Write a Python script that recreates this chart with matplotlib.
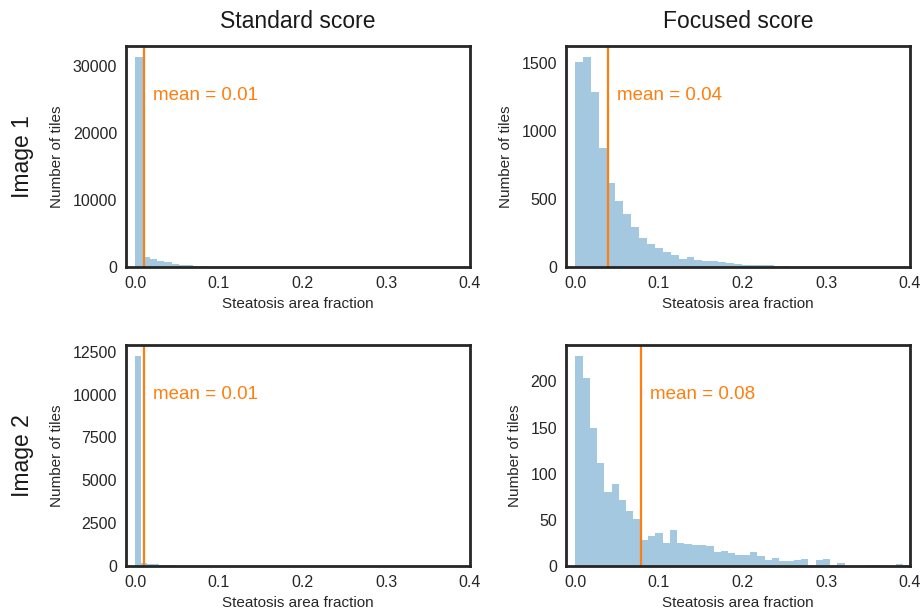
import numpy as np
import matplotlib
matplotlib.use("Agg")
import matplotlib.pyplot as plt
import matplotlib.transforms as mtransforms
import seaborn as sns

# histogram counts (one list per panel)
std1_counts = [31400, 1500, 1250, 950, 700, 500, 350, 250, 170, 110, 70, 40, 25, 15, 8, 5, 3, 2, 1, 1]
foc1_counts = [1510, 1547, 1289, 877, 620, 488, 390, 292, 211, 169, 137, 108, 88, 59, 71, 51, 47, 42,
               34, 27, 22, 17, 15, 12, 12, 10, 7, 3, 2, 2, 1]
std2_counts = [12280, 150, 120, 90, 70, 50, 35, 25, 15, 10, 5]
foc2_counts = [228, 204, 150, 112, 80, 89, 72, 60, 51, 28, 32, 36, 25, 39, 25, 24, 23, 23, 22, 15, 16, 14,
               12, 12, 15, 11, 7, 9, 5, 5, 6, 8, 1, 7, 8, 1, 3, 0, 0, 0, 1, 1, 0, 0, 2, 1]

# bin widths of each histogram
std1_bin = 0.0087
foc1_bin = 0.0095
std2_bin = 0.007
foc2_bin = 0.0087

# mean steatosis fraction per panel
std1_mean = 0.0107
foc1_mean = 0.039
std2_mean = 0.0104
foc2_mean = 0.078

col_titles = ['Standard score', 'Focused score']
row_titles = ['Image 1', 'Image 2']
x_ticks = [0.0, 0.1, 0.2, 0.3, 0.4]
std1_yticks = [0, 10000, 20000, 30000]
foc1_yticks = [0, 500, 1000, 1500]
std2_yticks = [0, 2500, 5000, 7500, 10000, 12500]
foc2_yticks = [0, 50, 100, 150, 200]

sns.set_style('white')
plt.rcParams['font.family'] = ['Liberation Sans', 'DejaVu Sans']

fig = plt.figure(figsize=(9.22, 6.10), dpi=100)

lefts = [0.1367, 0.6139]
bottoms = [0.5623, 0.0721]
w, h = 0.3731, 0.3623

panels = [
    (0, 0, std1_counts, std1_bin, std1_mean, std1_yticks),
    (0, 1, foc1_counts, foc1_bin, foc1_mean, foc1_yticks),
    (1, 0, std2_counts, std2_bin, std2_mean, std2_yticks),
    (1, 1, foc2_counts, foc2_bin, foc2_mean, foc2_yticks),
]

for row, col, counts, bw, mean, yticks in panels:
    ax = fig.add_axes([lefts[col], bottoms[row], w, h])
    counts = np.array(counts)
    edges = np.arange(len(counts)) * bw
    ax.bar(edges, counts, width=bw, align='edge', color='C0', alpha=0.4, linewidth=0)
    ax.axvline(mean, color='C1', linewidth=1.6)
    trans = mtransforms.blended_transform_factory(ax.transData, ax.transAxes)
    ax.text(mean + 0.011, 0.775, f'mean = {mean:.2f}', color='C1', fontsize=13.5,
            va='center', ha='left', transform=trans)
    ax.set_xlim(-0.011, 0.4)
    ax.set_ylim(0, counts.max() * 1.05)
    ax.set_xticks(x_ticks)
    ax.set_yticks(yticks)
    ax.tick_params(labelsize=11.5, colors='.15', pad=3)
    ax.set_xlabel('Steatosis area fraction', fontsize=11, labelpad=4)
    ax.set_ylabel('Number of tiles', fontsize=11, labelpad=6)
    for sp in ax.spines.values():
        sp.set_linewidth(2)
        sp.set_color('.15')

for i, t in enumerate(col_titles):
    fig.text(lefts[i] + w / 2, 1 - 22 / 610, t, fontsize=16.5, ha='center', va='center', color='.1')
for i, t in enumerate(row_titles):
    fig.text(22 / 922, bottoms[i] + h / 2, t, fontsize=16.5, ha='center', va='center',
             rotation=90, color='.1')

fig.savefig('out.png', dpi=100)
